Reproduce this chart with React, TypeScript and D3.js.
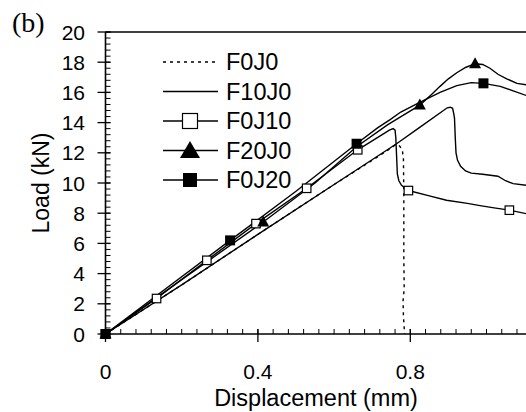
import React, { useEffect, useRef } from "react";
import * as d3 from "d3";

type Pt = [number, number];

// displacement (mm), load (kN)
const f0j0: Pt[] = [
  [0, 0], [0.2, 3.25], [0.4, 6.6], [0.6, 9.9], [0.7, 11.5], [0.74, 12.15],
  [0.762, 12.55], [0.772, 12.45], [0.779, 12.2], [0.782, 11.6], [0.783, 9],
  [0.783, 5], [0.784, 3], [0.781, 2.2], [0.782, 1.2], [0.785, 0],
];
const f10j0: Pt[] = [
  [0, 0], [0.2, 3.25], [0.4, 6.6], [0.6, 9.9], [0.764, 12.6], [0.82, 13.6],
  [0.887, 14.8], [0.897, 14.98], [0.905, 15.02], [0.911, 14.95], [0.914, 14.6],
  [0.916, 14.3], [0.918, 13], [0.92, 12], [0.924, 11.5], [0.932, 11.1],
  [0.945, 10.8], [0.96, 10.65], [0.99, 10.58], [1.03, 10.45], [1.05, 10.15],
  [1.07, 9.96], [1.104, 9.85],
];
const f0j10: Pt[] = [
  [0, 0], [0.134, 2.35], [0.266, 4.88], [0.395, 7.31], [0.528, 9.65],
  [0.662, 12.2], [0.72, 13.1], [0.745, 13.5], [0.755, 13.6], [0.76, 13.5],
  [0.762, 13.0], [0.764, 11.8], [0.766, 10.6], [0.77, 10.15], [0.777, 9.85],
  [0.795, 9.5], [0.85, 9.15], [0.895, 8.86], [0.95, 8.65], [0.983, 8.5],
  [1.02, 8.35], [1.06, 8.2], [1.104, 7.97],
];
const f0j10Marks: Pt[] = [
  [0, 0], [0.134, 2.35], [0.266, 4.88], [0.395, 7.31], [0.528, 9.65],
  [0.662, 12.2], [0.795, 9.5], [1.06, 8.2],
];
const f20j0: Pt[] = [
  [0, 0], [0.2, 3.6], [0.414, 7.42], [0.55, 10.0], [0.659, 12.4], [0.74, 13.85],
  [0.825, 15.16], [0.855, 15.85], [0.878, 16.4], [0.9, 16.9], [0.922, 17.3],
  [0.945, 17.65], [0.97, 17.9], [0.99, 17.85], [1.009, 17.6], [1.03, 17.2],
  [1.053, 16.9], [1.08, 16.6], [1.104, 16.5],
];
const f20j0Marks: Pt[] = [[0, 0], [0.414, 7.42], [0.825, 15.16], [0.97, 17.9]];
const f0j20: Pt[] = [
  [0, 0], [0.327, 6.2], [0.5, 9.45], [0.659, 12.6], [0.714, 13.65],
  [0.747, 14.2], [0.775, 14.7], [0.826, 15.35], [0.878, 16.0], [0.922, 16.45],
  [0.96, 16.65], [0.992, 16.6], [1.036, 16.4], [1.07, 16.1], [1.104, 15.8],
];
const f0j20Marks: Pt[] = [[0, 0], [0.327, 6.2], [0.659, 12.6], [0.992, 16.6]];

const legendNames = ["F0J0", "F10J0", "F0J10", "F20J0", "F0J20"];
const xTicks = [0, 0.4, 0.8];
const yTicks = [0, 2, 4, 6, 8, 10, 12, 14, 16, 18, 20];

export default function App() {
  const ref = useRef<SVGSVGElement>(null);

  useEffect(() => {
    const width = 526;
    const svg = d3.select(ref.current);
    svg.selectAll("*").remove();

    const x = d3.scaleLinear().domain([0, 1]).range([105.5, 486.5]);
    const y = d3.scaleLinear().domain([0, 20]).range([334, 32]);
    const font = "Arial, 'Liberation Sans', sans-serif";

    // frame
    svg.append("line").attr("x1", x(0)).attr("x2", width).attr("y1", y(20)).attr("y2", y(20))
      .attr("stroke", "#000").attr("stroke-width", 1.6);
    svg.append("line").attr("x1", x(0)).attr("x2", width).attr("y1", y(0)).attr("y2", y(0))
      .attr("stroke", "#000").attr("stroke-width", 1.6);
    svg.append("line").attr("x1", x(0)).attr("x2", x(0)).attr("y1", y(0)).attr("y2", y(20))
      .attr("stroke", "#000").attr("stroke-width", 1.6);

    // y ticks
    const yMinor = d3.range(0, 20.001, 0.4);
    svg.append("g").selectAll("line").data(yMinor).join("line")
      .attr("x1", x(0)).attr("x2", x(0) + 5)
      .attr("y1", (d) => y(d)).attr("y2", (d) => y(d))
      .attr("stroke", "#000").attr("stroke-width", 1);
    svg.append("g").selectAll("line").data(yTicks).join("line")
      .attr("x1", x(0) - 8).attr("x2", x(0) + 5)
      .attr("y1", (d) => y(d)).attr("y2", (d) => y(d))
      .attr("stroke", "#000").attr("stroke-width", 1.3);
    svg.append("g").selectAll("text").data(yTicks).join("text")
      .attr("x", 85).attr("y", (d) => y(d)).attr("dy", "0.36em")
      .attr("text-anchor", "end").attr("font-family", font).attr("font-size", 21)
      .text((d) => d);

    // x ticks
    const xMinor = d3.range(0, 1.2, 0.04);
    svg.append("g").selectAll("line").data(xMinor).join("line")
      .attr("x1", (d) => x(d)).attr("x2", (d) => x(d))
      .attr("y1", y(0)).attr("y2", y(0) - 5)
      .attr("stroke", "#000").attr("stroke-width", 1);
    svg.append("g").selectAll("line").data(xTicks).join("line")
      .attr("x1", (d) => x(d)).attr("x2", (d) => x(d))
      .attr("y1", y(0) + 8).attr("y2", y(0) - 5)
      .attr("stroke", "#000").attr("stroke-width", 1.3);
    svg.append("g").selectAll("text").data(xTicks).join("text")
      .attr("x", (d) => x(d)).attr("y", 379)
      .attr("text-anchor", "middle").attr("font-family", font).attr("font-size", 21)
      .text((d) => d3.format("~g")(d));

    // axis titles
    svg.append("text").attr("x", 316).attr("y", 406).attr("text-anchor", "middle")
      .attr("font-family", font).attr("font-size", 23.5).text("Displacement (mm)");
    svg.append("text").attr("transform", "translate(49,183) rotate(-90)")
      .attr("text-anchor", "middle").attr("font-family", font).attr("font-size", 23)
      .text("Load (kN)");
    svg.append("text").attr("x", 12).attr("y", 32)
      .attr("font-family", "'Liberation Serif', 'Times New Roman', serif").attr("font-size", 28)
      .text("(b)");

    const line = d3.line<Pt>().x((d) => x(d[0])).y((d) => y(d[1]));
    const curves: { data: Pt[]; dash?: string }[] = [
      { data: f0j0, dash: "3,4" },
      { data: f10j0 },
      { data: f0j10 },
      { data: f20j0 },
      { data: f0j20 },
    ];
    curves.forEach((c) => {
      svg.append("path").attr("d", line(c.data)).attr("fill", "none")
        .attr("stroke", "#000").attr("stroke-width", 1.4)
        .attr("stroke-dasharray", c.dash || null);
    });

    const openSquare = (g: any, cx: number, cy: number, s: number) =>
      g.append("rect").attr("x", cx - s / 2).attr("y", cy - s / 2).attr("width", s).attr("height", s)
        .attr("fill", "#fff").attr("stroke", "#000").attr("stroke-width", 1.2);
    const filledSquare = (g: any, cx: number, cy: number, s: number) =>
      g.append("rect").attr("x", cx - s / 2).attr("y", cy - s / 2).attr("width", s).attr("height", s)
        .attr("fill", "#000");
    const triangle = (g: any, cx: number, cy: number, w: number, h: number) =>
      g.append("path")
        .attr("d", `M${cx - w / 2},${cy + h / 2}L${cx + w / 2},${cy + h / 2}L${cx},${cy - h / 2}Z`)
        .attr("fill", "#000");

    const marks = svg.append("g");
    f0j10Marks.forEach((p) => openSquare(marks, x(p[0]), y(p[1]), 8.5));
    f20j0Marks.forEach((p) => triangle(marks, x(p[0]), y(p[1]) - 1, 12, 11));
    f0j20Marks.forEach((p) => filledSquare(marks, x(p[0]), y(p[1]), 10));

    // legend
    const lg = svg.append("g");
    legendNames.forEach((name, i) => {
      const cy = 62 + i * 29.5;
      lg.append("line").attr("x1", 163).attr("x2", 218).attr("y1", cy).attr("y2", cy)
        .attr("stroke", "#000").attr("stroke-width", 1.4)
        .attr("stroke-dasharray", i === 0 ? "3,4" : null);
      if (i === 2) openSquare(lg, 190, cy, 15);
      if (i === 3) triangle(lg, 190, cy - 1, 20, 17);
      if (i === 4) filledSquare(lg, 190, cy, 14);
      lg.append("text").attr("x", 226).attr("y", cy).attr("dy", "0.36em")
        .attr("font-family", font).attr("font-size", 23.5).text(name);
    });
  }, []);

  return (
    <svg
      ref={ref}
      width={526}
      height={412}
      style={{ position: "absolute", left: 0, top: 0, background: "#fff" }}
    />
  );
}
